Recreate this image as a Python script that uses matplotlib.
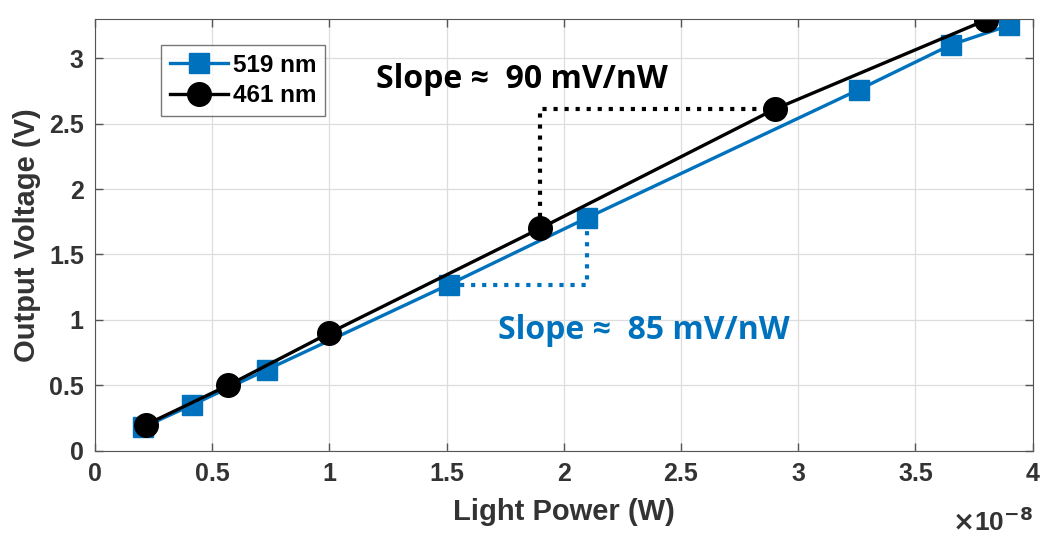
import numpy as np
import matplotlib.pyplot as plt

plt.rcParams['font.family'] = ['Liberation Sans', 'DejaVu Sans']
plt.rcParams['font.weight'] = 'bold'

# data (x in units of 1e-8 W)
x_519 = [0.205, 0.414, 0.734, 1.51, 2.10, 3.26, 3.65, 3.90]
y_519 = [0.18, 0.35, 0.62, 1.27, 1.78, 2.76, 3.10, 3.25]
x_461 = [0.218, 0.568, 1.0, 1.90, 2.90, 3.80]
y_461 = [0.20, 0.50, 0.90, 1.70, 2.61, 3.29]

blue = '#0072BD'

fig = plt.figure(figsize=(10.43, 5.38), dpi=100)
ax = fig.add_axes([0.091, 0.162, 0.899, 0.803])

ax.plot(x_519, y_519, '-s', color=blue, lw=2.4, ms=14, label='519 nm')
ax.plot(x_461, y_461, '-o', color='black', lw=2.4, ms=17, label='461 nm')

# slope guides
ax.plot([x_461[3], x_461[3], x_461[4]], [y_461[3], y_461[4], y_461[4]],
        ':', color='black', lw=3, zorder=1)
ax.plot([x_519[3], x_519[4], x_519[4]], [y_519[3], y_519[3], y_519[4]],
        ':', color=blue, lw=3, zorder=1)

ax.text(1.2, 2.84, 'Slope \u2248  90 mV/nW', fontsize=23, color='black',
        family=['Open Sans', 'DejaVu Sans'], fontweight='bold', va='center')
ax.text(1.72, 0.92, 'Slope \u2248  85 mV/nW', fontsize=23, color=blue,
        family=['Open Sans', 'DejaVu Sans'], fontweight='bold', va='center')

ax.set_xlim(0, 4)
ax.set_ylim(0, 3.3)
ax.set_xticks(np.arange(0, 4.01, 0.5))
ax.set_xticklabels(['0', '0.5', '1', '1.5', '2', '2.5', '3', '3.5', '4'])
ax.set_yticks(np.arange(0, 3.01, 0.5))
ax.set_yticklabels(['0', '0.5', '1', '1.5', '2', '2.5', '3'])
ax.tick_params(direction='in', top=True, right=True, labelsize=18, length=6,
               width=1, color='#555555', pad=8)
ax.grid(True, color='#dddddd', lw=0.9)
ax.set_axisbelow(True)
for s in ax.spines.values():
    s.set_color('#555555')

ax.set_xlabel('Light Power (W)', fontsize=21, fontweight='bold', color='#333333',
              labelpad=9)
ax.set_ylabel('Output Voltage (V)', fontsize=21, fontweight='bold', color='#333333',
              labelpad=6)
for lab in ax.get_xticklabels() + ax.get_yticklabels():
    lab.set_color('#333333')

ax.text(1.0, -0.165, r'$\times$10$^{\mathbf{-8}}$', transform=ax.transAxes,
        ha='right', va='center', fontsize=19, color='#333333')

leg = ax.legend(loc='upper left', bbox_to_anchor=(0.058, 0.967), fontsize=17.5,
                fancybox=False, edgecolor='#555555', handlelength=2.4,
                handletextpad=0.2, borderpad=0.35, labelspacing=0.3)
leg.get_frame().set_linewidth(1)

fig.savefig('out.png', dpi=100)
